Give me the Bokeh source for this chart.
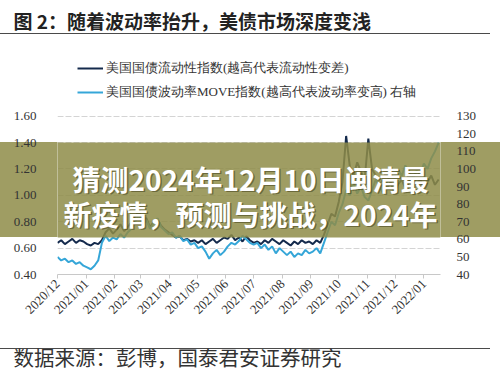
import pandas as pd
from math import pi
from bokeh.plotting import figure
from bokeh.models import (Range1d, LinearAxis, FixedTicker, DatetimeTickFormatter,
                          NumeralTickFormatter, Label, BoxAnnotation, Legend, LegendItem,
                          ColumnDataSource, Title)
from bokeh.embed import file_html
from bokeh.resources import INLINE

# ---------------- data (every 4 days) ----------------
dates = pd.date_range("2020-12-01", periods=104, freq="4D")

liquidity = [
    0.64, 0.66, 0.63, 0.65, 0.67, 0.64, 0.66, 0.65,          # Dec 2020
    0.63, 0.62, 0.64, 0.63, 0.66,                            # early Jan
    0.72, 0.75, 0.71, 0.74, 0.78, 0.73, 0.76, 0.80, 0.84, 0.88,  # late Jan-Feb
    0.79, 0.83, 0.76, 0.80, 0.82, 0.77, 0.74, 0.72,          # Mar
    0.70, 0.68, 0.69, 0.66, 0.67, 0.65, 0.66,                # Apr
    0.64, 0.66, 0.63, 0.65, 0.67, 0.64, 0.66, 0.68,          # May
    0.67, 0.70, 0.66, 0.68, 0.65, 0.69, 0.66, 0.64,          # Jun
    0.65, 0.63, 0.66, 0.64, 0.67, 0.65, 0.63, 0.66,          # Jul
    0.64, 0.62, 0.65, 0.63, 0.66, 0.64, 0.65,                # Aug
    0.63, 0.66, 0.64, 0.70, 0.78, 0.86, 0.84, 0.95,          # Sep
    1.10, 1.45, 1.22, 1.15, 1.25, 1.18, 1.12,                # Oct
    1.43, 1.20, 1.15, 1.08, 1.12, 1.05, 1.10, 1.02,          # Nov
    1.08, 1.12, 1.05, 1.10, 1.15, 1.08, 1.12, 1.06,          # Dec
    1.10, 1.15, 1.08, 1.12,                                  # Jan 2022
]

move = [
    50, 48, 49, 47, 48, 46, 47, 45,
    44, 43, 45, 48, 58,
    62, 59, 61, 60, 63, 61, 64, 66, 70, 74,
    68, 71, 66, 69, 72, 67, 65, 63,
    64, 61, 62, 59, 60, 57, 58,
    55, 56, 53, 49, 52, 54, 51, 53,
    56, 58, 57, 59, 62, 60, 58, 57,
    58, 55, 57, 54, 56, 52, 55, 53,
    51, 53, 50, 52, 51, 54, 52,
    53, 55, 52, 58, 64, 70, 68, 75,
    80, 88, 85, 92, 86, 90, 84,
    82, 88, 94, 90, 86, 92, 98, 95,
    100, 96, 102, 98, 94, 99, 97, 103,
    100, 106, 110, 115,
]

left_ticks = [0.40, 0.60, 0.80, 1.00, 1.20, 1.40, 1.60]
right_ticks = [40, 50, 60, 70, 80, 90, 100, 110, 120, 130]
month_ticks = pd.date_range("2020-12-01", "2022-01-01", freq="MS")

title_text = "图 2：随着波动率抬升，美债市场深度变浅"
legend_labels = ["美国国债流动性指数(越高代表流动性变差)",
                 "美国国债波动率MOVE指数(越高代表波动率变高) 右轴"]
source_text = "数据来源：彭博，国泰君安证券研究"
banner_lines = ["猜测2024年12月10日闽清最", "新疫情，预测与挑战，2024年"]

# ---------------- layout constants ----------------
SERIF = "Liberation Serif"
CJK = "Noto Sans CJK SC"
BANNER = "rgb(159,157,99)"
FRAME_TOP, FRAME_BOTTOM = 36, 274        # plot area, window pixels
GRID_TOP = 115                           # where 1.60 / 130 sit
frac = (FRAME_BOTTOM - FRAME_TOP) / (FRAME_BOTTOM - GRID_TOP)

bg = ("linear-gradient(to bottom, transparent 33px, #4a4a4a 33px, #4a4a4a 34px, "
      "transparent 34px, transparent 348px, #4a4a4a 348px, #4a4a4a 349px, transparent 349px), "
      "linear-gradient(to bottom, transparent 142px, " + BANNER + " 142px, " + BANNER +
      " 237px, transparent 237px)")

p = figure(width=500, height=380, x_axis_type="datetime",
           x_range=Range1d(pd.Timestamp("2020-12-01"), pd.Timestamp("2022-01-19")),
           y_range=Range1d(left_ticks[0], left_ticks[0] + (left_ticks[-1] - left_ticks[0]) * frac),
           output_backend="svg", toolbar_location=None,
           min_border_left=57, min_border_right=60,
           min_border_top=FRAME_TOP, min_border_bottom=380 - FRAME_BOTTOM)
p.title.visible = False
p.styles = {"background-color": "white", "background-image": bg,
            "background-size": "490px 100%, 100% 100%", "background-repeat": "no-repeat"}
p.outline_line_color = None
p.background_fill_color = "white"
p.border_fill_alpha = 0
p.extra_y_ranges = {"right": Range1d(right_ticks[0],
                                     right_ticks[0] + (right_ticks[-1] - right_ticks[0]) * frac)}

src = ColumnDataSource(dict(date=dates, liq=liquidity, move=move))
r_liq = p.line("date", "liq", source=src, line_color="#142a4c", line_width=2)
r_move = p.line("date", "move", source=src, line_color="#35a6d8", line_width=2,
                y_range_name="right")

# x axis
xa = p.xaxis[0]
xa.ticker = FixedTicker(ticks=[t.timestamp() * 1000 for t in month_ticks])
fmt = "%Y/%m"
xa.formatter = DatetimeTickFormatter(microseconds=fmt, milliseconds=fmt, seconds=fmt,
                                     minsec=fmt, minutes=fmt, hourmin=fmt, hours=fmt,
                                     days=fmt, months=fmt, years=fmt)
xa.major_label_orientation = pi / 4
xa.major_label_text_font = SERIF
xa.major_label_text_font_size = "13px"
xa.major_label_text_color = "#333333"
xa.axis_line_color = "#c8c8c8"
xa.major_tick_line_color = "#c8c8c8"
xa.major_tick_out = 4
xa.major_tick_in = 0
xa.minor_tick_line_color = None
xa.major_label_standoff = 3

# left axis
ya = p.yaxis[0]
ya.ticker = FixedTicker(ticks=left_ticks)
ya.formatter = NumeralTickFormatter(format="0.00")
ya.axis_line_color = None
ya.major_tick_line_color = None
ya.minor_tick_line_color = None
ya.major_label_standoff = 15
ya.major_label_text_font = SERIF
ya.major_label_text_font_size = "13px"
ya.major_label_text_color = "#333333"

# right axis
ra = LinearAxis(y_range_name="right", ticker=FixedTicker(ticks=right_ticks))
ra.axis_line_color = None
ra.major_tick_line_color = None
ra.minor_tick_line_color = None
ra.major_label_standoff = 10
ra.major_label_text_font = SERIF
ra.major_label_text_font_size = "13px"
ra.major_label_text_color = "#333333"
p.add_layout(ra, "right")

p.xgrid.grid_line_color = None
p.ygrid.ticker = FixedTicker(ticks=left_ticks)
p.ygrid.grid_line_color = "#d4d4d4"
p.ygrid.grid_line_dash = "6 2"
p.ygrid.grid_line_width = 1


def SX(xw):
    return xw - 57


def SY(yw):
    return FRAME_BOTTOM - yw


# series legend, inside the (tall) plot area
legend = Legend(items=[LegendItem(label=legend_labels[0], renderers=[r_liq]),
                       LegendItem(label=legend_labels[1], renderers=[r_move])],
                location=(SX(77), SY(102)), orientation="vertical",
                glyph_width=26, glyph_height=20, label_height=20, spacing=4,
                label_standoff=3, padding=0, margin=0,
                border_line_color=None, background_fill_alpha=0,
                label_text_font=SERIF, label_text_font_size="13px",
                label_text_color="#333333")
p.add_layout(legend)

# chart title (above panel)
p.add_layout(Title(text=title_text, align="left", offset=-44, standoff=8,
                   vertical_align="bottom", text_font=CJK, text_font_size="19px",
                   text_font_style="bold", text_color="#222222"), "above")

# source note (below panel, after the x axis and a small white spacer title)
p.add_layout(Title(text=".", text_font_size="8px", standoff=7, text_color="white",
                   text_font_style="normal"), "below")
p.add_layout(Title(text=source_text, align="left", offset=-44, standoff=0,
                   vertical_align="bottom", text_font=CJK, text_font_size="20.5px",
                   text_font_style="normal", text_color="#333333"), "below")

# banner over the plot area
p.add_layout(BoxAnnotation(top=SY(142), bottom=SY(237),
                           top_units="screen", bottom_units="screen",
                           fill_color="#8e8c48", fill_alpha=0.85, line_alpha=0))
for yw, t in zip([178, 213], banner_lines):
    p.add_layout(Label(x=SX(250) + 1.5, y=SY(yw) - 1.5, x_units="screen", y_units="screen",
                       text=t, text_font=CJK, text_font_size="28px", text_font_style="bold",
                       text_color="#3e3c18", text_alpha=0.55,
                       text_align="center", text_baseline="middle"))
    p.add_layout(Label(x=SX(250), y=SY(yw), x_units="screen", y_units="screen",
                       text=t, text_font=CJK, text_font_size="28px", text_font_style="bold",
                       text_color="white", text_align="center", text_baseline="middle"))

open("out.html", "w").write(file_html(p, INLINE))
